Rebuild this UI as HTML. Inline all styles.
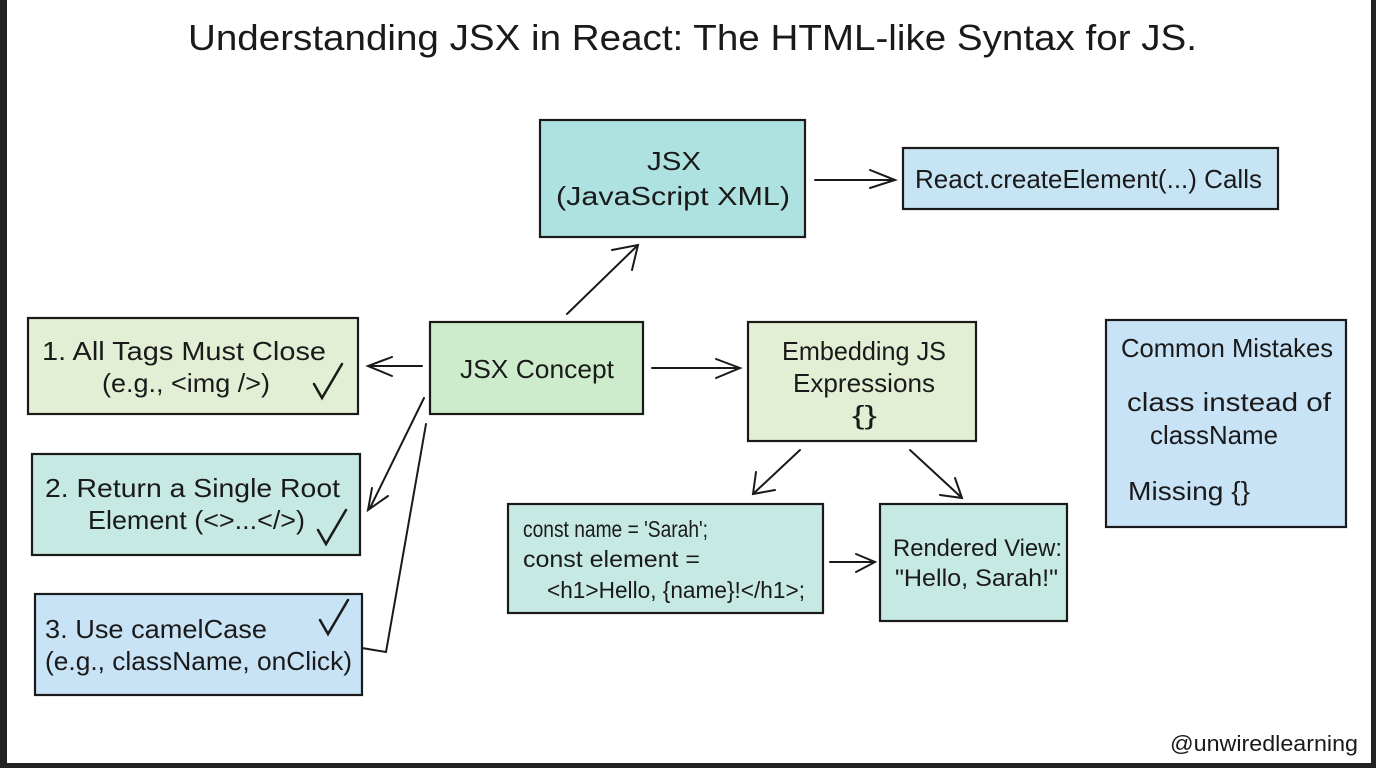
<!DOCTYPE html>
<html><head><meta charset="utf-8"><style>
html,body{margin:0;padding:0;background:#fff}
svg{display:block}
text{font-family:"Liberation Sans",sans-serif;fill:#1a1a1a}
</style></head><body>
<svg width="1376" height="768" viewBox="0 0 1376 768" xmlns="http://www.w3.org/2000/svg">
<rect x="0" y="0" width="1376" height="768" fill="#fff"/>
<rect x="0" y="0" width="7" height="768" fill="#222"/>
<rect x="0" y="763" width="1376" height="5" fill="#222"/>
<rect x="1371" y="0" width="5" height="768" fill="#222"/>
<text x="188" y="50" font-size="36" textLength="1009" lengthAdjust="spacingAndGlyphs">Understanding JSX in React: The HTML-like Syntax for JS.</text>
<g stroke="#1a1a1a" stroke-width="2.2">
<rect x="540" y="120" width="265" height="117" fill="#ade2e0"/>
<rect x="903" y="148" width="375" height="61" fill="#c7e4f4"/>
<rect x="430" y="322" width="213" height="92" fill="#cdeccc"/>
<rect x="748" y="322" width="228" height="119" fill="#e3efd5"/>
<rect x="1106" y="320" width="240" height="207" fill="#c8e3f6"/>
<rect x="28" y="318" width="330" height="96" fill="#e3efd5"/>
<rect x="32" y="454" width="328" height="101" fill="#c6e9e3"/>
<rect x="35" y="594" width="327" height="101" fill="#c8e3f6"/>
<rect x="508" y="504" width="315" height="109" fill="#c6e9e3"/>
<rect x="880" y="504" width="187" height="117" fill="#c6e9e3"/>
</g>
<g stroke="#1a1a1a" stroke-width="2" fill="none" stroke-linecap="round">
<path d="M815 180 L895 180 M870 170 L895 180 L870 188"/>
<path d="M567 314 L638 245 M612 250 L638 245 L632 270"/>
<path d="M422 366 L368 366 M392 357 L368 366 L392 376"/>
<path d="M652 368 L740 368 M716 359 L740 368 L716 378"/>
<path d="M424 398 L370 508 M372 488 L368 510 L388 496"/>
<path d="M426 424 L386 652 L362 648"/>
<path d="M800 450 L753 494 M756 472 L753 494 L775 490"/>
<path d="M910 450 L962 498 M940 495 L962 498 L955 478"/>
<path d="M830 562 L875 562 M856 554 L875 562 L856 572"/>
<path d="M314 384 L322 398 L342 364" stroke-width="2.5"/>
<path d="M318 530 L326 544 L346 510" stroke-width="2.5"/>
<path d="M320 620 L328 634 L348 600" stroke-width="2.5"/>
</g>
<g font-size="26" lengthAdjust="spacingAndGlyphs">
<text x="647" y="170" textLength="54" lengthAdjust="spacingAndGlyphs">JSX</text>
<text x="556" y="205" textLength="234" lengthAdjust="spacingAndGlyphs">(JavaScript XML)</text>
<text x="915" y="188" textLength="347" lengthAdjust="spacingAndGlyphs">React.createElement(...) Calls</text>
<text x="460" y="378" textLength="154" lengthAdjust="spacingAndGlyphs">JSX Concept</text>
<text x="782" y="360" textLength="164" lengthAdjust="spacingAndGlyphs">Embedding JS</text>
<text x="793" y="392" textLength="142" lengthAdjust="spacingAndGlyphs">Expressions</text>
<text x="852" y="424" textLength="25" lengthAdjust="spacingAndGlyphs">{}</text>
<text x="1121" y="357" textLength="212" lengthAdjust="spacingAndGlyphs">Common Mistakes</text>
<text x="1127" y="411" textLength="204" lengthAdjust="spacingAndGlyphs">class instead of</text>
<text x="1150" y="444" textLength="128" lengthAdjust="spacingAndGlyphs">className</text>
<text x="1128" y="500" textLength="122" lengthAdjust="spacingAndGlyphs">Missing {}</text>
<text x="42" y="360" textLength="284" lengthAdjust="spacingAndGlyphs">1. All Tags Must Close</text>
<text x="102" y="392" textLength="168" lengthAdjust="spacingAndGlyphs">(e.g., &lt;img /&gt;)</text>
<text x="45" y="497" textLength="295" lengthAdjust="spacingAndGlyphs">2. Return a Single Root</text>
<text x="88" y="529" textLength="217" lengthAdjust="spacingAndGlyphs">Element (&lt;&gt;...&lt;/&gt;)</text>
<text x="45" y="638" textLength="222" lengthAdjust="spacingAndGlyphs">3. Use camelCase</text>
<text x="45" y="670" textLength="307" lengthAdjust="spacingAndGlyphs">(e.g., className, onClick)</text>
<text x="523" y="537" font-size="23" textLength="185" lengthAdjust="spacingAndGlyphs">const name = 'Sarah';</text>
<text x="523" y="567" font-size="23" textLength="177" lengthAdjust="spacingAndGlyphs">const element =</text>
<text x="547" y="598" font-size="23" textLength="258" lengthAdjust="spacingAndGlyphs">&lt;h1&gt;Hello, {name}!&lt;/h1&gt;;</text>
<text x="893" y="556" font-size="24" textLength="169" lengthAdjust="spacingAndGlyphs">Rendered View:</text>
<text x="895" y="586" font-size="24" textLength="163" lengthAdjust="spacingAndGlyphs">"Hello, Sarah!"</text>
<text x="1170" y="751" font-size="22" textLength="188" lengthAdjust="spacingAndGlyphs">@unwiredlearning</text>
</g>
</svg>
</body></html>
